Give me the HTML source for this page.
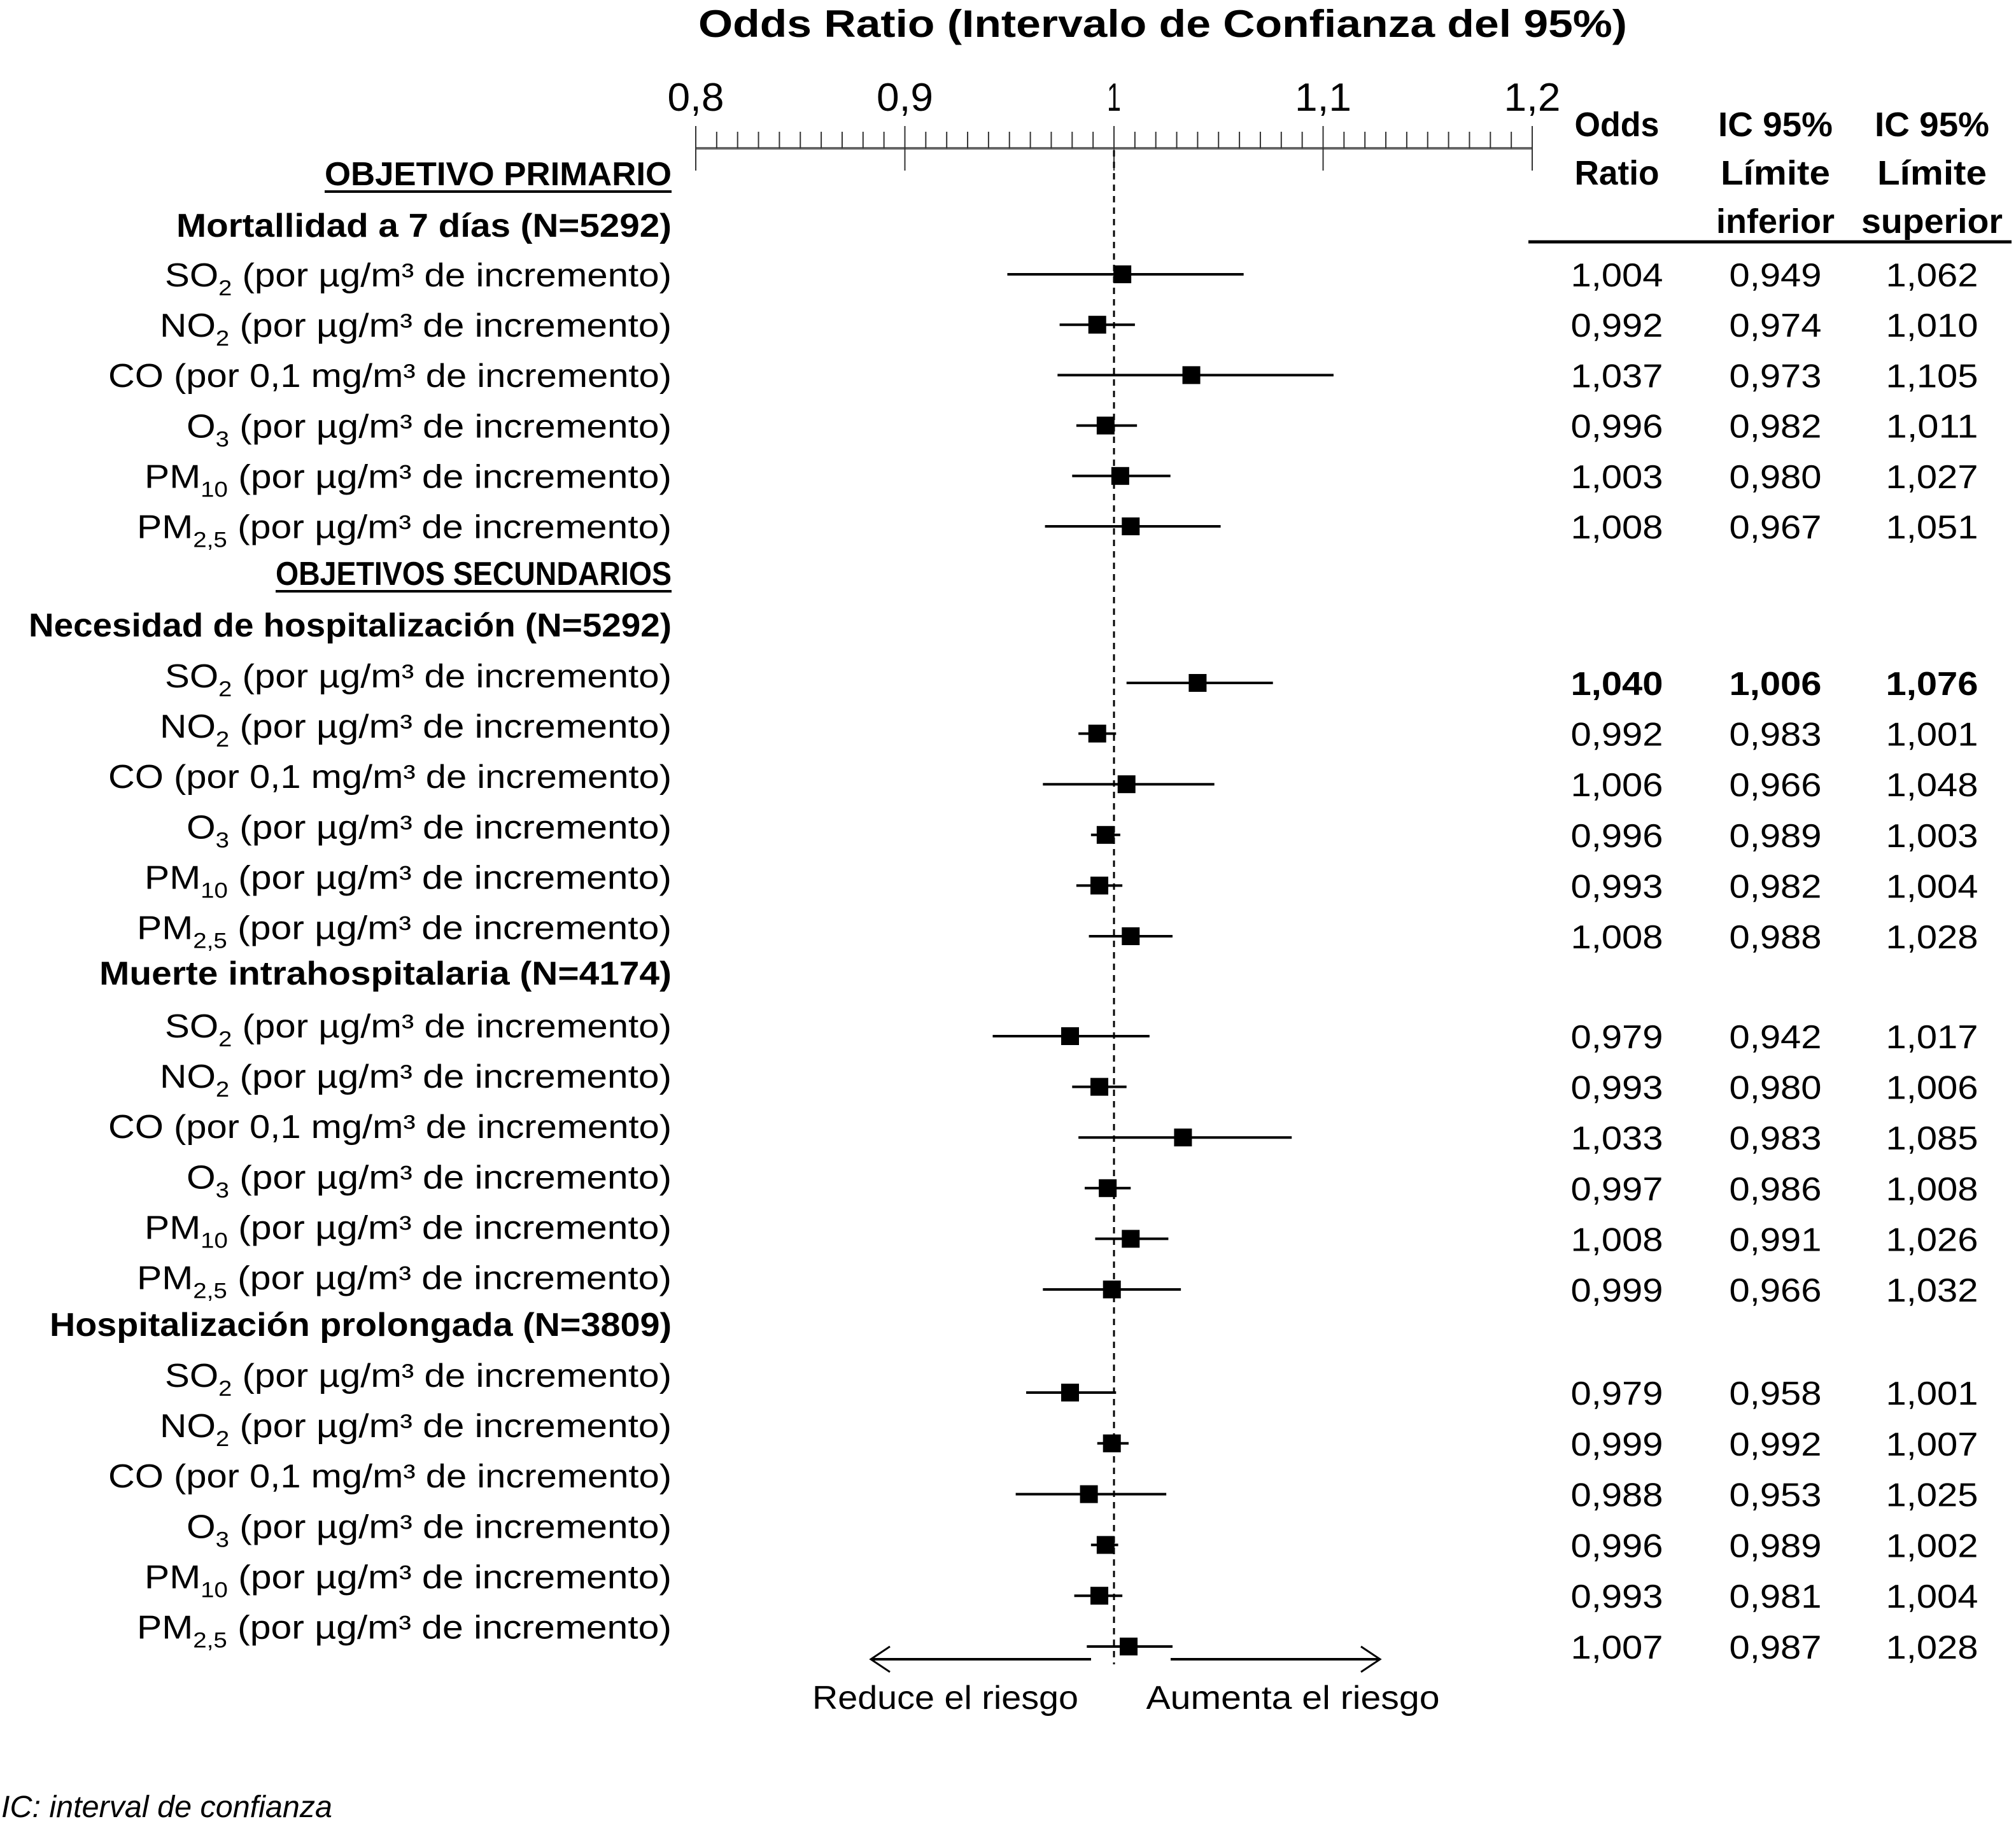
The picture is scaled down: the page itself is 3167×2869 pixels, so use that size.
<!DOCTYPE html>
<html><head><meta charset="utf-8"><style>
html,body{margin:0;padding:0;background:#fff}
svg{display:block}
text{font-family:"Liberation Sans",sans-serif;fill:#000}
</style></head><body>
<svg id="chart" width="3167" height="2869" viewBox="0 0 3167 2869" xmlns="http://www.w3.org/2000/svg"></svg>
<script>
const orVals = [1.004,0.992,1.037,0.996,1.003,1.008, 1.040,0.992,1.006,0.996,0.993,1.008, 0.979,0.993,1.033,0.997,1.008,0.999, 0.979,0.999,0.988,0.996,0.993,1.007];
const loVals = [0.949,0.974,0.973,0.982,0.980,0.967, 1.006,0.983,0.966,0.989,0.982,0.988, 0.942,0.980,0.983,0.986,0.991,0.966, 0.958,0.992,0.953,0.989,0.981,0.987];
const hiVals = [1.062,1.010,1.105,1.011,1.027,1.051, 1.076,1.001,1.048,1.003,1.004,1.028, 1.017,1.006,1.085,1.008,1.026,1.032, 1.001,1.007,1.025,1.002,1.004,1.028];
const tickVals = [0.8,0.9,1.0,1.1,1.2];
const tickLabels = ["0,8","0,9","1","1,1","1,2"];
const groupTitles = ["Mortallidad a 7 días (N=5292)","Necesidad de hospitalización (N=5292)","Muerte intrahospitalaria (N=4174)","Hospitalización prolongada  (N=3809)"];

const svg = document.getElementById('chart');
const NS = 'http://www.w3.org/2000/svg';
const X0 = 1093, X1 = 2407, VMIN = 0.8, VMAX = 1.2;
function xs(v){ return X0 + (v - VMIN) / (VMAX - VMIN) * (X1 - X0); }
function fmt(v){ return v.toFixed(3).replace('.', ','); }
function mk(tag){ const e = document.createElementNS(NS, tag); svg.appendChild(e); return e; }
function setA(e, o){ for (const k in o) e.setAttribute(k, o[k]); return e; }

let t = mk('text');


setA(t, {x:1097, y:58, 'font-size':60, 'font-weight':'bold', textLength:1459, lengthAdjust:'spacingAndGlyphs'});
t.textContent = 'Odds Ratio (Intervalo de Confianza del 95%)';

let ax = mk('line');


setA(ax, {x1:X0, x2:X1, y1:233, y2:233, stroke:'#666', 'stroke-width':4});
for (let v = 0.8; v <= 1.2001; v += 0.01) {
  const r = Math.round(v * 100);
  const major = r % 10 === 0;
  const tk = mk('line');
  
  
  setA(tk, {x1:xs(r/100), x2:xs(r/100), y1: major ? 198 : 207, y2: major ? 268 : 233, stroke:'#333', 'stroke-width':2});
}
tickVals.forEach((v, i) => {
  const tl = mk('text');
  
  
  const w = tickLabels[i].length === 1 ? 22 : 89;
  setA(tl, {x:xs(v), y:174, 'font-size':62, 'text-anchor':'middle', textLength:w, lengthAdjust:'spacingAndGlyphs'});
  tl.textContent = tickLabels[i];
});

const hdr = [[2540,[['Odds',133],['Ratio',133]]],[2789,[['IC 95%',180],['Límite',172],['inferior',186]]],[3035,[['IC 95%',180],['Límite',172],['superior',222]]]];
hdr.forEach(h => {
  h[1].forEach((s, j) => {
    const e = mk('text');
    
    
    setA(e, {x:h[0], y:214 + j*76, 'font-size':54, 'font-weight':'bold', 'text-anchor':'middle', textLength:s[1], lengthAdjust:'spacingAndGlyphs'});
    e.textContent = s[0];
  });
});
let hr = mk('line');


setA(hr, {x1:2401, x2:3160, y1:380, y2:380, stroke:'#000', 'stroke-width':5});

let ref = mk('line');


setA(ref, {x1:xs(1), x2:xs(1), y1:236, y2:2615, stroke:'#000', 'stroke-width':3, 'stroke-dasharray':'10,8'});

function heading(txt, y, w, name){
  const e = mk('text');
  
  
  setA(e, {x:1055, y:y, 'font-size':52, 'font-weight':'bold', 'text-anchor':'end', textLength:w, lengthAdjust:'spacingAndGlyphs'});
  e.textContent = txt;
  const u = mk('line');
  
  
  setA(u, {x1:1055 - w, x2:1055, y1:y + 10, y2:y + 10, stroke:'#000', 'stroke-width':4});
}
heading('OBJETIVO PRIMARIO', 291, 545, 'primary-objective-heading');
heading('OBJETIVOS SECUNDARIOS', 919, 622, 'secondary-objectives-heading');

const groupTitleY = [372, 1000, 1547, 2099];
const groupTitleW = [778, 1010, 899, 977];
const labelY = [431, 1061, 1611, 2160];
const markY = [431, 1073, 1628, 2188];
const markStep = [79.2, 79.6, 79.6, 79.8];
const pollutants = [['SO','2',' (por µg/m³ de incremento)',796],['NO','2',' (por µg/m³ de incremento)',804],['CO (por 0,1 mg/m³ de incremento)','','',885],['O','3',' (por µg/m³ de incremento)',762],['PM','10',' (por µg/m³ de incremento)',828],['PM','2,5',' (por µg/m³ de incremento)',840]];

for (let g = 0; g < 4; g++) {
  const gt = mk('text');
  
  
  setA(gt, {x:1055, y:groupTitleY[g], 'font-size':52, 'font-weight':'bold', 'text-anchor':'end', textLength:groupTitleW[g], lengthAdjust:'spacingAndGlyphs'});
  gt.textContent = groupTitles[g];
  for (let r = 0; r < 6; r++) {
    const idx = g*6 + r;
    const p = pollutants[r];
    const ly = labelY[g] + r * 79.1 + 19;
    const lb = mk('text');
    
    
    setA(lb, {x:1055, y:ly, 'font-size':52, 'text-anchor':'end', textLength:p[3], lengthAdjust:'spacingAndGlyphs'});
    const a = document.createElementNS(NS, 'tspan'); a.textContent = p[0]; lb.appendChild(a);
    if (p[1]) {
      const s = document.createElementNS(NS, 'tspan'); s.textContent = p[1];
      setA(s, {'font-size':34, dy:14}); lb.appendChild(s);
      const b = document.createElementNS(NS, 'tspan'); b.textContent = p[2];
      setA(b, {dy:-14}); lb.appendChild(b);
    }
    const my = markY[g] + r * markStep[g];
    const ci = mk('line');
    
    
    setA(ci, {x1:xs(loVals[idx]), x2:xs(hiVals[idx]), y1:my, y2:my, stroke:'#000', 'stroke-width':4});
    const sq = mk('rect');
    
    
    setA(sq, {x:xs(orVals[idx]) - 14, y:my - 14, width:28, height:28, fill:'#000'});
    const bold = idx === 6;
    [[2540, orVals[idx]],[2789, loVals[idx]],[3035, hiVals[idx]]].forEach(c => {
      const n = mk('text');
      
      
      setA(n, {x:c[0], y:my + 19, 'font-size':52, 'text-anchor':'middle', textLength:145, lengthAdjust:'spacingAndGlyphs', 'font-weight': bold ? 'bold' : 'normal'});
      n.textContent = fmt(c[1]);
    });
  }
}

function arrow(x1, x2, dir, name){
  const l = mk('line');
  
  
  setA(l, {x1:x1, x2:x2, y1:2607, y2:2607, stroke:'#000', 'stroke-width':4});
  const tip = dir < 0 ? x1 : x2;
  const h = mk('polyline');
  
  
  setA(h, {points:`${tip - dir*30},2587 ${tip},2607 ${tip - dir*30},2627`, fill:'none', stroke:'#000', 'stroke-width':3});
}
arrow(1368, 1714, -1, 'reduce-risk-arrow');
arrow(1839, 2168, 1, 'increase-risk-arrow');
[['Reduce el riesgo',1485,418,'reduce-risk-label'],['Aumenta el riesgo',2031,461,'increase-risk-label']].forEach(a => {
  const e = mk('text');
  
  
  setA(e, {x:a[1], y:2685, 'font-size':52, 'text-anchor':'middle', textLength:a[2], lengthAdjust:'spacingAndGlyphs'});
  e.textContent = a[0];
});
let fn = mk('text');


setA(fn, {x:2, y:2855, 'font-size':48, 'font-style':'italic', textLength:520, lengthAdjust:'spacingAndGlyphs'});
fn.textContent = 'IC: interval de confianza';
</script>
</body></html>
